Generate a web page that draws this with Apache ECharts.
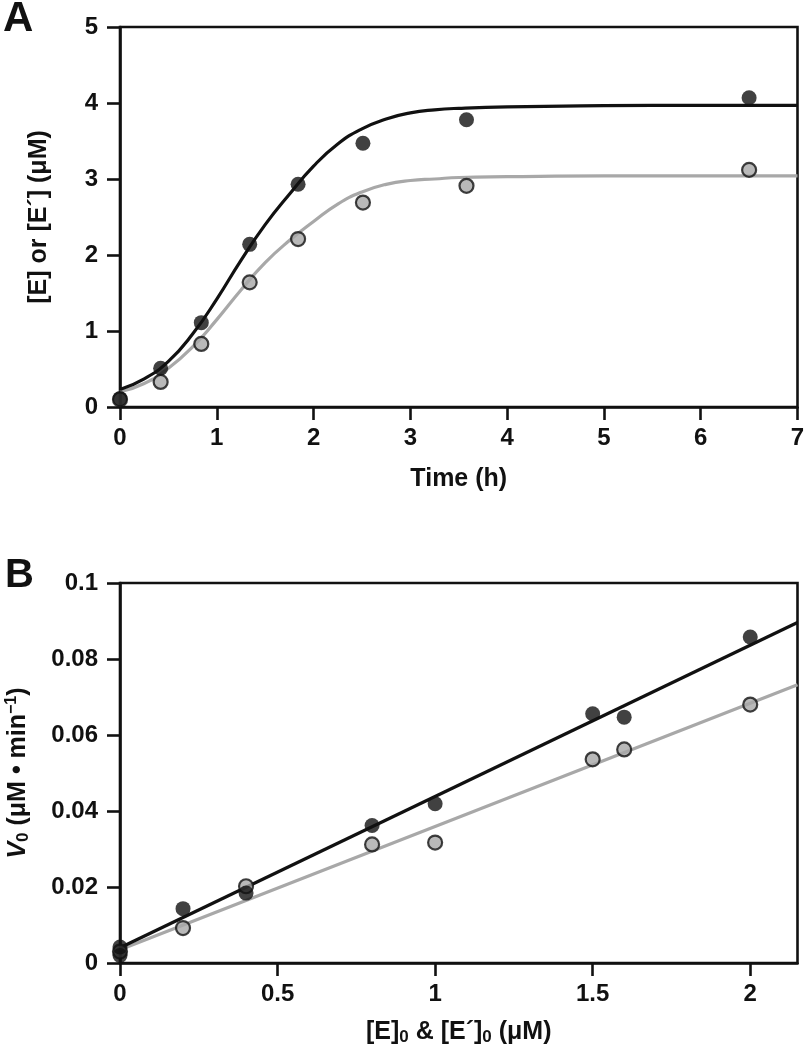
<!DOCTYPE html>
<html>
<head>
<meta charset="utf-8">
<script src="https://cdn.jsdelivr.net/npm/echarts@6/dist/echarts.min.js"></script>
<style>
  html, body { margin: 0; padding: 0; background: #ffffff; }
  #chart { width: 804px; height: 1050px; }
</style>
</head>
<body>
<div id="chart"></div>
<script>
// ---------- Panel A data (Time course) ----------
const timeE = [0, 0.42, 0.84, 1.34, 1.84, 2.51, 3.58, 6.5];
const concE = [0.11, 0.51, 1.11, 2.14, 2.93, 3.47, 3.78, 4.07];
const timeEp = [0, 0.42, 0.84, 1.34, 1.84, 2.51, 3.58, 6.5];
const concEp = [0.1, 0.33, 0.83, 1.64, 2.21, 2.69, 2.91, 3.12];
// fitted curves at regular time steps
const fitTime = [0, 0.25, 0.5, 0.75, 1.0, 1.25, 1.5, 1.75, 2.0, 2.25, 2.5, 2.75, 3.0, 3.25, 3.5, 4, 5, 6, 7];
const fitConcE = [0.23, 0.37, 0.6, 0.96, 1.42, 1.93, 2.4, 2.8, 3.17, 3.46, 3.66, 3.79, 3.87, 3.91, 3.93, 3.95, 3.965, 3.97, 3.97];
const fitConcEp = [0.2, 0.31, 0.51, 0.79, 1.15, 1.54, 1.9, 2.19, 2.44, 2.67, 2.83, 2.93, 2.98, 3.0, 3.02, 3.03, 3.04, 3.04, 3.04];

// ---------- Panel B data (initial rate vs enzyme) ----------
const enzE = [0, 0, 0.2, 0.4, 0.8, 1.0, 1.5, 1.6, 2.0];
const rateE = [0.0042, 0.002, 0.0143, 0.0184, 0.0362, 0.0419, 0.0656, 0.0647, 0.0858];
const enzEp = [0, 0.2, 0.4, 0.8, 1.0, 1.5, 1.6, 2.0];
const rateEp = [0.003, 0.0092, 0.0202, 0.0312, 0.0317, 0.0536, 0.0562, 0.068];
const fitEnzE = [0, 2.15];
const fitRateE = [0.004, 0.0896];
const fitEnzEp = [0, 2.15];
const fitRateEp = [0.0035, 0.0732];

// tick settings
const ticksA_x = { min: 0, max: 7, interval: 1 };
const ticksA_y = { min: 0, max: 5, interval: 1 };
const ticksB_x = { min: 0, max: 2.15, interval: 0.5 };
const ticksB_y = { min: 0, max: 0.1, interval: 0.02 };

function zip(a, b) { return a.map((v, i) => [v, b[i]]); }

const INK = '#111111';
const GRAY = '#a8a8a8';
const FONT = '"Liberation Sans", Arial, Helvetica, sans-serif';

const axisLineStyle = { show: true, onZero: false, lineStyle: { color: INK, width: 2.6 } };
const axisTickStyle = { show: true, inside: false, length: 13, lineStyle: { color: INK, width: 2.6 } };
const labelBase = { color: INK, fontFamily: FONT, fontWeight: 'bold', fontSize: 24 };
const nameBase = { color: INK, fontFamily: FONT, fontWeight: 'bold', fontSize: 25, lineHeight: 28,
  rich: {
    sub: { fontFamily: FONT, fontWeight: 'bold', fontSize: 17, lineHeight: 12, verticalAlign: 'bottom', color: INK },
    sup: { fontFamily: FONT, fontWeight: 'bold', fontSize: 16, lineHeight: 12, verticalAlign: 'top', color: INK },
    it: { fontFamily: FONT, fontWeight: 'bold', fontStyle: 'italic', fontSize: 25, lineHeight: 28, color: INK }
  }
};

const gridStyle = { show: true, borderColor: INK, borderWidth: 2.6, containLabel: false, outerBoundsMode: 'none' };

const option = {
  animation: false,
  backgroundColor: '#ffffff',
  textStyle: { fontFamily: FONT },
  grid: [
    Object.assign({ left: 120, top: 27, width: 677.5, height: 380 }, gridStyle),
    Object.assign({ left: 120, top: 583, width: 677.5, height: 380 }, gridStyle)
  ],
  xAxis: [
    {
      type: 'value', gridIndex: 0, min: ticksA_x.min, max: ticksA_x.max, interval: ticksA_x.interval,
      axisLine: axisLineStyle, axisTick: axisTickStyle, splitLine: { show: false },
      axisLabel: Object.assign({ margin: 19 }, labelBase),
      name: 'Time (h)', nameLocation: 'middle', nameGap: 58, nameTextStyle: nameBase
    },
    {
      type: 'value', gridIndex: 1, min: ticksB_x.min, max: ticksB_x.max, interval: ticksB_x.interval,
      axisLine: axisLineStyle, axisTick: axisTickStyle, splitLine: { show: false },
      axisLabel: Object.assign({ margin: 19, showMaxLabel: false,
        formatter: v => (Math.abs(v * 2 - Math.round(v * 2)) < 1e-6 ? String(+v.toFixed(2)) : '') }, labelBase),
      name: '[E]{sub|0} & [E´]{sub|0} (μM)', nameLocation: 'middle', nameGap: 55, nameTextStyle: nameBase
    }
  ],
  yAxis: [
    {
      type: 'value', gridIndex: 0, min: ticksA_y.min, max: ticksA_y.max, interval: ticksA_y.interval,
      axisLine: axisLineStyle, axisTick: axisTickStyle, splitLine: { show: false },
      axisLabel: Object.assign({ margin: 22 }, labelBase),
      name: '[E] or [E´] (μM)', nameLocation: 'middle', nameGap: 67, nameRotate: 90, nameTextStyle: nameBase
    },
    {
      type: 'value', gridIndex: 1, min: ticksB_y.min, max: ticksB_y.max, interval: ticksB_y.interval,
      axisLine: axisLineStyle, axisTick: axisTickStyle, splitLine: { show: false },
      axisLabel: Object.assign({ margin: 22, formatter: v => String(+v.toFixed(2)) }, labelBase),
      name: '{it|V}{sub|0} (μM • min{sup|−1})', nameLocation: 'middle', nameGap: 88, nameRotate: 90, nameTextStyle: nameBase
    }
  ],
  graphic: [
    { type: 'text', left: 3, top: -2, style: { text: 'A', font: 'bold 42px ' + FONT, fill: INK } },
    { type: 'text', left: 5, top: 556, style: { text: 'B', font: 'bold 40px ' + FONT, fill: INK } }
  ],
  series: [
    // Panel A
    { type: 'line', xAxisIndex: 0, yAxisIndex: 0, data: zip(fitTime, fitConcEp), showSymbol: false,
      smooth: true, lineStyle: { color: GRAY, width: 3.2 }, z: 2 },
    { type: 'line', xAxisIndex: 0, yAxisIndex: 0, data: zip(fitTime, fitConcE), showSymbol: false,
      smooth: true, lineStyle: { color: INK, width: 3.2 }, z: 3 },
    { type: 'scatter', xAxisIndex: 0, yAxisIndex: 0, data: zip(timeEp, concEp), symbol: 'circle', symbolSize: 14,
      itemStyle: { color: GRAY, borderColor: INK, borderWidth: 2.2 }, z: 4 },
    { type: 'scatter', xAxisIndex: 0, yAxisIndex: 0, data: zip(timeE, concE), symbol: 'circle', symbolSize: 15,
      itemStyle: { color: INK }, z: 5 },
    // Panel B
    { type: 'line', xAxisIndex: 1, yAxisIndex: 1, data: zip(fitEnzEp, fitRateEp), showSymbol: false,
      lineStyle: { color: GRAY, width: 3.2 }, z: 2 },
    { type: 'line', xAxisIndex: 1, yAxisIndex: 1, data: zip(fitEnzE, fitRateE), showSymbol: false,
      lineStyle: { color: INK, width: 3.2 }, z: 3 },
    { type: 'scatter', xAxisIndex: 1, yAxisIndex: 1, data: zip(enzEp, rateEp), symbol: 'circle', symbolSize: 14,
      itemStyle: { color: GRAY, borderColor: INK, borderWidth: 2.2 }, z: 4 },
    { type: 'scatter', xAxisIndex: 1, yAxisIndex: 1, data: zip(enzE, rateE), symbol: 'circle', symbolSize: 15,
      itemStyle: { color: INK }, z: 5 }
  ]
};

const chart = echarts.init(document.getElementById('chart'), null, { renderer: 'canvas' });
chart.setOption(option);
</script>
</body>
</html>
